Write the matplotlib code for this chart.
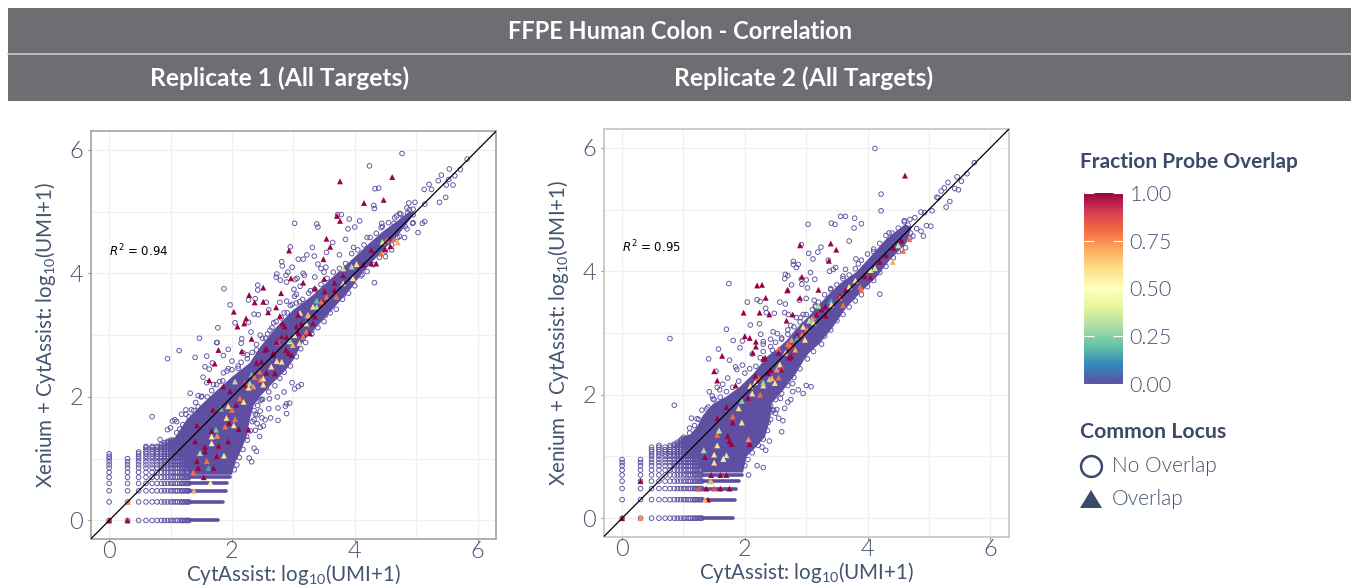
import matplotlib
matplotlib.use("Agg")
import matplotlib.pyplot as plt
from matplotlib.patches import Rectangle, Polygon
from matplotlib.cm import ScalarMappable
from matplotlib.colors import Normalize

W, H = 1351, 588
INK = "#44546f"
HEAD = "#3a4a68"
PURPLE = "#5e4fa2"

plt.rcParams["font.family"] = ["Lato", "DejaVu Sans"]
plt.rcParams["font.weight"] = 300
plt.rcParams["mathtext.default"] = "regular"

titles = ["Replicate 1 (All Targets)", "Replicate 2 (All Targets)"]
ticks = [0, 2, 4, 6]
cbar_ticks = [0, 0.25, 0.5, 0.75, 1]

# log10(n+1) for the small UMI counts, where the points fall on a grid
umi_levels = [0, .30, .48, .60, .70, .78, .85, .90, .95, 1.0, 1.04, 1.08, 1.11, 1.15, 1.18, 1.20, 1.23, 1.26, 1.28, 1.30]

# highest grid row reached in each grid column
left_col_top = [1.08, 1.0, 1.11, 1.20, 1.20, 1.20, 1.23, 1.26, 1.28, 1.30, 1.30, 1.30, 1.30, 1.30, 1.30, 1.30, 1.30, 1.30, 1.30, 1.30]
right_col_top = [.95, .95, 1.15, 1.18, 1.15, 1.18, 1.20, 1.23, 1.26, 1.28, 1.30, 1.30, 1.30, 1.30, 1.30, 1.30, 1.30, 1.30, 1.30, 1.30]

# the bottom rows run solid up to these x values
row_y = [0, .30, .48, .60, .70]
left_row_end = [1.78, 1.85, 1.90, 1.92, 1.97]
right_row_end = [1.80, 1.84, 1.86, 1.90, 1.95]

# outline of the solid mass of points
left_band_x = [1.05, 1.26, 1.53, 1.77, 2.02, 2.29, 2.46, 2.73, 3.0, 3.32, 3.65, 3.97, 4.24, 4.46, 4.68, 4.89, 4.98, 4.73, 4.41, 4.14, 3.92, 3.65, 3.43, 3.16, 3.0, 2.89, 2.67, 2.46, 2.35, 2.29, 2.24, 2.13, 2.05, 2.0, 1.3, 1.2]
left_band_y = [1.31, 1.63, 1.90, 2.12, 2.34, 2.55, 2.81, 3.14, 3.41, 3.65, 3.95, 4.24, 4.49, 4.68, 4.84, 5.0, 4.98, 4.65, 4.32, 4.03, 3.73, 3.43, 3.19, 2.9, 2.6, 2.45, 2.23, 2.01, 1.85, 1.63, 1.36, 1.09, .93, .74, .74, 1.09]
right_band_x = [1.03, 1.22, 1.32, 1.49, 1.70, 1.92, 2.14, 2.35, 2.54, 2.68, 2.84, 3.06, 3.33, 3.55, 3.82, 4.04, 4.31, 4.61, 4.72, 4.63, 4.36, 4.15, 3.87, 3.66, 3.44, 3.22, 3.05, 2.98, 2.82, 2.63, 2.44, 2.41, 2.33, 2.19, 2.03, 1.97, 1.3, 1.2]
right_band_y = [1.27, 1.48, 1.67, 1.86, 1.97, 2.13, 2.34, 2.61, 2.75, 2.88, 3.07, 3.29, 3.59, 3.8, 3.99, 4.23, 4.53, 4.76, 4.72, 4.45, 4.18, 3.91, 3.64, 3.42, 3.1, 2.83, 2.68, 2.59, 2.32, 2.08, 1.86, 1.59, 1.32, 1.16, 1.0, .74, .74, 1.09]

# open circles that roughen the edge of the mass
left_edge_x = [1.1, 1.2, 1.15, 1.3, 1.38, 1.45, 1.25, 1.5, 1.6, 1.67, 1.75, 1.85, 1.92, 2.0, 2.1, 2.15, 2.25, 2.33, 2.4, 2.5, 2.58, 2.65, 2.72, 2.8, 2.9, 2.95, 3.05, 3.15, 3.25, 3.35, 3.45, 3.55, 3.65, 3.75, 3.85, 3.95, 4.05, 4.15, 4.25, 4.35, 4.45, 4.55, 4.65, 4.75, 4.85,
               4.95, 4.85, 4.7, 4.6, 4.5, 4.4, 4.3, 4.2, 4.1, 4.0, 3.9, 3.8, 3.7, 3.6, 3.5, 3.4, 3.3, 3.2, 3.12, 3.05, 2.95, 2.85, 2.78, 2.7, 2.6, 2.5, 2.42, 2.38, 2.33, 2.3, 2.25, 2.18, 2.12, 2.08, 2.04]
left_edge_y = [1.42, 1.55, 1.48, 1.68, 1.78, 1.84, 1.72, 2.0, 2.0, 2.1, 2.2, 2.26, 2.42, 2.44, 2.5, 2.56, 2.68, 2.72, 2.85, 2.95, 3.02, 3.12, 3.22, 3.28, 3.36, 3.48, 3.52, 3.58, 3.68, 3.74, 3.82, 3.92, 4.02, 4.08, 4.16, 4.32, 4.38, 4.46, 4.58, 4.65, 4.76, 4.82, 4.9, 4.96, 5.06,
               4.82, 4.72, 4.58, 4.46, 4.36, 4.26, 4.14, 4.03, 3.96, 3.8, 3.68, 3.58, 3.42, 3.36, 3.22, 3.12, 3.02, 2.88, 2.78, 2.65, 2.5, 2.4, 2.3, 2.18, 2.08, 1.96, 1.86, 1.72, 1.6, 1.45, 1.3, 1.15, 1.02, .9, .82]
right_edge_x = [1.1, 1.18, 1.25, 1.3, 1.4, 1.5, 1.6, 1.7, 1.8, 1.9, 2.0, 2.08, 2.18, 2.25, 2.3, 2.42, 2.5, 2.6, 2.7, 2.8, 2.9, 3.0, 3.1, 3.2, 3.3, 3.4, 3.5, 3.6, 3.7, 3.8, 3.9, 4.0, 4.1, 4.2, 4.3, 4.4, 4.5, 4.6,
                4.7, 4.62, 4.5, 4.42, 4.3, 4.2, 4.1, 4.0, 3.9, 3.8, 3.7, 3.6, 3.5, 3.4, 3.3, 3.25, 3.12, 3.02, 2.9, 2.8, 2.7, 2.6, 2.5, 2.45, 2.42, 2.37, 2.3, 2.22, 2.12, 2.05, 2.0]
right_edge_y = [1.38, 1.5, 1.6, 1.75, 1.8, 1.92, 1.96, 2.05, 2.12, 2.22, 2.35, 2.42, 2.46, 2.6, 2.7, 2.78, 2.85, 2.92, 2.98, 3.1, 3.18, 3.3, 3.38, 3.5, 3.62, 3.7, 3.78, 3.88, 3.94, 4.04, 4.18, 4.28, 4.32, 4.45, 4.58, 4.62, 4.7, 4.82,
                4.62, 4.38, 4.32, 4.22, 4.08, 3.98, 3.85, 3.75, 3.62, 3.52, 3.42, 3.3, 3.2, 3.05, 2.95, 2.82, 2.7, 2.58, 2.42, 2.28, 2.15, 2.02, 1.92, 1.75, 1.6, 1.42, 1.28, 1.18, 1.06, .95, .85]

# separate open circles (no probe overlap)
left_open_x = [4.77, 4.24, 4.33, 4.39, 4.31, 4.32, 3.72, 3.78, 3.91, 4.08, 4.0, 3.89, 3.02, 3.38, 3.40, 3.85, 3.64, 3.31, 2.95, 3.22, 3.08, 3.16, 3.34, 3.54, 2.81, 2.82, 2.98, 3.40, 3.45, 3.53, 2.73, 2.72, 2.91, 2.88, 2.79, 2.89, 3.06, 3.03, 3.16, 3.18, 3.35, 3.11, 3.01, 3.05, 3.02, 1.87, 2.42, 2.42, 1.97, 2.27, 2.38, 2.56, 2.78, 2.89, 2.98, 2.36, 2.43, 2.6, 2.05, 2.27, 1.77, 1.47, 1.76, 2.16, 2.15, 2.62, 2.31, 2.46, 4.32, 5.03,
               5.83, 5.54, 5.72, 5.41, 5.36, 5.53, 5.63, 5.21, 5.49, 5.6, 5.13, 5.25, 5.48, 5.38, 5.14, 4.88, 4.98, 4.89, 4.95, 4.86, 4.73, 4.68, 4.79, 4.95, 5.14, 5.1, 4.94, 4.82, 4.64, 4.44, 4.73, 4.81, 4.58, 4.43,
               3.13, 3.08, 3.02, 2.98, 2.85, 2.94, 2.89, 2.87, 2.75, 2.74, 2.61, 2.48, 2.6, 2.89, 2.75, 2.63, 2.54, 2.46, 2.41, 2.49, 2.36, 2.41, 2.46, 2.51, 2.38, 2.45, 2.36, 2.4, 2.28, 2.32, 2.24,
               .7, .95, 1.14, 1.4, 1.59, 1.75, 1.32, 1.41, 1.56, 1.63, 1.68, 1.53, 1.59, 1.51, 1.86, 1.94, 2.0, 1.86, 1.94, 2.18, 1.07, 1.03, 1.25, 1.34, .83, .95, 1.0, 1.1, 1.18, 1.45, 1.7, 1.8, 2.1, 2.25, 2.4, 2.55, 2.68, 2.85, 3.1, 3.28, 3.5, 3.75, 3.98, 4.2, 4.5, 4.6, 4.12, 3.82, 3.52, 3.3, 2.78, 2.56, 2.46, 2.36]
left_open_y = [5.94, 5.74, 5.37, 5.38, 5.10, 5.05, 4.95, 4.95, 4.88, 4.85, 4.75, 4.72, 4.81, 4.80, 4.75, 4.55, 4.50, 4.42, 4.43, 4.30, 4.23, 4.23, 4.28, 4.34, 4.19, 4.12, 4.10, 4.15, 4.08, 4.10, 3.99, 3.94, 4.02, 3.97, 3.89, 3.86, 3.92, 3.90, 4.0, 3.97, 3.94, 3.79, 3.74, 3.66, 3.63, 3.75, 3.81, 3.73, 3.49, 3.57, 3.59, 3.53, 3.53, 3.55, 3.50, 3.34, 3.33, 3.41, 3.2, 3.21, 3.12, 2.95, 2.88, 2.94, 2.87, 3.08, 3.05, 3.0, 3.85, 4.66,
               5.85, 5.69, 5.68, 5.59, 5.50, 5.52, 5.58, 5.44, 5.43, 5.43, 5.36, 5.36, 5.23, 5.15, 5.12, 5.14, 5.15, 5.03, 5.04, 4.98, 4.97, 4.93, 4.89, 4.95, 4.84, 4.81, 4.81, 4.76, 4.81, 4.81, 4.6, 4.58, 4.63, 4.74,
               2.2, 2.17, 2.13, 2.23, 2.08, 1.9, 1.89, 1.85, 1.82, 2.0, 1.97, 1.96, 1.81, 1.73, 1.62, 1.66, 1.63, 1.77, 1.71, 1.66, 1.63, 1.57, 1.51, 1.53, 1.46, 1.36, 1.17, 1.12, 1.01, .95, 1.36,
               1.68, 2.62, 2.75, 2.64, 2.66, 2.88, 2.06, 1.91, 2.49, 2.45, 2.55, 2.32, 2.23, 2.01, 2.67, 2.77, 2.58, 2.39, 2.46, 2.71, 1.63, 1.61, 1.79, 1.79, 1.31, 1.47, 1.5, 1.6, 1.72, 2.02, 2.2, 2.25, 2.46, 2.62, 2.76, 2.95, 3.2, 3.36, 3.54, 3.72, 4.02, 4.3, 4.42, 4.58, 4.27, 4.38, 3.98, 3.66, 3.32, 3.08, 2.62, 2.15, 1.94, 1.78]
right_open_x = [4.12, 4.22, 4.22, 3.56, 3.64, 3.79, 3.90, 3.78, 3.03, 3.41, 3.47, 3.70, 2.92, 3.24, 3.19, 3.04, 3.11, 3.36, 2.79, 2.79, 2.87, 2.84, 3.48, 3.44, 3.38, 3.64, 3.81, 3.07, 2.66, 2.7, 2.65, 2.92, 3.0, 3.14, 1.74, 2.76, 2.93, 3.02, 2.57, 2.66, 2.89, 3.0, 3.13, 3.15, 2.04, 2.2, 2.25, 2.34, 2.35, 2.48, 2.65, 2.71, 2.84, 2.91, 2.09, 2.24, 1.7, 2.26, 2.46, 2.53, 2.7, .78, 1.81, 1.96, 1.57, 1.92, 2.3, 4.2,
                4.91, 4.96, 5.03, 5.05, 5.28, 5.34, 5.13, 5.15, 5.2, 5.25, 5.31, 5.42, 5.48, 5.46, 5.53, 5.62, 5.74, 4.87, 4.77, 4.69, 4.66, 4.8, 4.87, 4.69, 4.74, 4.93,
                3.08, 3.0, 2.95, 2.87, 2.78, 2.75, 2.7, 2.65, 2.58, 2.52, 2.47, 2.43, 2.38, 2.36, 2.3, 2.27, 2.42, 2.5, 2.55, 2.6, 2.62, 2.34, 2.28, 2.4, 2.06, 2.2, 2.3,
                .85, 1.41, 1.53, 1.64, 1.75, 1.87, 1.72, 1.55, 1.59, 1.47, 1.42, 1.85, 1.96, 2.12, 2.3, 2.42, 1.13, 1.22, 1.38, 1.48, 1.0, .97, 1.1, 2.45, 2.6, 2.75, 2.95, 3.15, 3.4, 3.6, 3.85, 4.1, 4.35, 4.6, 3.78, 3.5, 3.25, 2.78]
right_open_y = [5.99, 5.25, 4.98, 4.89, 4.89, 4.86, 4.77, 4.70, 4.76, 4.78, 4.76, 4.49, 4.43, 4.39, 4.31, 4.29, 4.2, 4.18, 4.16, 4.11, 4.11, 4.06, 4.06, 4.03, 4.0, 4.03, 4.2, 3.98, 3.95, 3.93, 3.88, 3.87, 3.86, 3.87, 3.8, 3.78, 3.79, 3.73, 3.5, 3.47, 3.53, 3.56, 3.53, 3.42, 3.5, 3.54, 3.51, 3.4, 3.33, 3.32, 3.33, 3.3, 3.25, 3.25, 3.13, 3.15, 3.06, 2.98, 3.02, 2.99, 3.05, 2.91, 2.88, 2.87, 2.74, 2.76, 2.82, 3.63,
                4.57, 4.74, 4.73, 4.98, 5.04, 5.13, 5.2, 5.19, 5.3, 5.35, 5.44, 5.34, 5.32, 5.53, 5.46, 5.58, 5.76, 4.96, 4.87, 4.84, 4.75, 4.69, 4.65, 4.54, 4.57, 4.95,
                2.13, 2.15, 2.02, 2.08, 2.05, 1.92, 1.88, 1.78, 1.94, 1.76, 1.75, 1.72, 1.55, 1.62, 1.45, 1.4, 1.82, 1.7, 1.62, 1.4, 1.58, 1.1, 1.15, 1.25, .7, .85, .82,
                1.83, 2.58, 2.38, 2.17, 2.56, 2.41, 2.27, 2.12, 2.08, 1.98, 2.05, 2.45, 2.48, 2.66, 2.86, 2.9, 1.62, 1.61, 1.77, 1.93, 1.31, 1.28, 1.46, 2.72, 2.9, 3.12, 3.3, 3.44, 3.72, 3.92, 4.12, 4.36, 4.62, 4.8, 3.62, 3.3, 3.0, 2.18]

# triangles (common locus) with their fraction of probe overlap
left_tri_x = [3.76, 4.61, 4.15, 4.47, 3.71, 3.76, 3.54, 3.6, 2.93, 3.49, 2.51, 2.28, 2.51, 2.37, 2.8, 2.96, 3.16, 3.5, 3.35, 2.72, 2.59, 2.78, 2.03, 2.23, 2.2, 2.09, 2.82, 2.32, 1.78, 1.72, 2.16, 1.63,
              1.37, 1.45, 1.54, 1.65, 1.38, .3, 0, .3, 1.48, 1.43, 1.59, 1.56, 1.4, 1.56, 1.67, 1.78, 1.87, 1.75, 1.62, 1.7, 1.67, 1.76, 1.94, 1.74, 1.67, 1.89, 2.03, 1.95, 1.91, 1.94, 2.05, 1.69, 1.82, 1.43, 2.11, 2.27, 2.0, 2.07, 2.13, 2.19, 2.27, 2.32, 2.05, 2.21, 1.86, 1.97, 2.46, 2.51, 2.56, 2.7, 2.4, 2.67, 2.75, 2.92, 2.94, 2.73,
              2.81, 3.11, 3.24, 3.05, 3.16, 3.35, 3.38, 3.67, 3.81, 3.95, 3.81, 4.03, 4.14, 4.27, 4.35, 4.27, 4.43, 4.45, 4.52, 4.64, 4.7, 4.58, 4.49, 3.7, 3.81, 3.97, 3.67, 3.54, 3.32, 3.48, 3.21, 2.89, 2.73, 2.56,
              3.08, 3.13, 3.24, 3.38, 3.46, 3.51, 3.32, 3.21, 3.08, 2.94, 2.99, 3.1, 2.88, 2.97, 2.81, 2.67, 2.54, 2.48, 2.45, 2.64, 2.37, 2.51, 2.29, 2.21, 2.7, 2.35, 2.86, 3.02, 3.27, 2.81]
left_tri_y = [5.49, 5.56, 5.14, 5.19, 4.93, 4.85, 4.56, 4.43, 4.37, 4.23, 3.77, 3.65, 3.54, 3.53, 3.68, 3.92, 3.85, 3.91, 3.76, 3.45, 3.37, 3.31, 3.38, 3.27, 3.19, 3.14, 3.19, 2.94, 2.76, 2.54, 2.74, 2.27,
              .78, .85, .70, .61, .48, .30, 0, 0, 1.09, .96, .96, 1.12, 1.28, 1.19, 1.25, 1.21, 1.05, 1.04, .85, .85, 1.36, 1.37, 1.28, 1.47, 1.45, 1.52, 1.54, 1.58, 1.66, 1.85, 1.64, 1.79, 1.81, 1.54, 1.48, 1.47, 1.79, 1.87, 1.98, 1.92, 2.15, 2.36, 2.25, 2.23, 2.17, 2.09, 2.28, 2.2, 2.39, 2.39, 2.55, 2.71, 2.88, 2.71, 2.9, 2.58,
              2.98, 3.36, 3.32, 3.14, 2.97, 3.3, 3.56, 3.85, 3.97, 4.11, 4.08, 4.15, 4.14, 4.16, 4.16, 4.38, 4.32, 4.51, 4.54, 4.55, 4.5, 4.44, 4.39, 3.62, 3.84, 3.92, 3.73, 3.62, 3.46, 3.54, 3.19, 2.97, 2.89, 2.78,
              3.33, 3.19, 3.33, 3.46, 3.54, 3.71, 3.19, 3.06, 3.03, 2.92, 2.84, 2.87, 2.76, 2.68, 2.57, 2.68, 2.76, 2.57, 2.41, 2.49, 2.32, 2.3, 2.22, 2.2, 2.38, 2.17, 3.14, 3.0, 3.03, 2.98]
left_tri_f = [1, 1, 1, 1, 1, 1, 1, 1, 1, 1, 1, 1, 1, 1, 1, 1, 1, 1, 1, 1, 1, 1, 1, 1, 1, 1, 1, 1, 1, 1, 1, 1,
              .8, 1, 1, .55, .7, .75, 1, 1, .3, 1, .8, 1, 1, 1, .55, 1, .6, 1, .15, 1, .55, .75, 1, .22, 1, .8, .6, 1, .6, .6, .8, 1, .2, 1, 1, 1, .8, 1, .8, .6, .6, .22, .3, .8, 1, 1, .8, .6, 1, 1, 1, 1, .8, 1, .6, .6,
              .8, .6, .6, 1, .8, 1, .2, 1, 1, .3, .35, .6, 1, 1, 1, 1, .8, .35, .8, .8, .7, 1, 1, .8, .6, .6, 1, .8, .6, 1, .6, 1, 1, 1,
              1, 1, .7, .3, .8, 1, 1, .8, 1, .25, .7, .6, 1, 1, .6, 1, 1, 1, .8, .6, .8, .6, .3, 1, 1, .75, 1, .6, 1, 1]
right_tri_x = [4.61, 3.4, 3.49, 2.9, 3.37, 2.2, 2.28, 2.34, 2.93, 2.69, 2.7, 3.2, 2.9, 1.98, 2.24, 2.4, 2.68, 2.78, 2.0, 2.08, 2.18, 1.5, 2.13, 2.18, 1.55, 1.63, 1.85,
               0, .3, .3, 1.37, 1.45, 1.6, 1.7, 1.25, 1.4, 1.43, 1.5, 1.35, 1.45, 1.5, 1.6, 1.75, 1.33, 1.35, 1.5, 1.55, 1.65, 1.7, 1.78, 1.55, 1.58, 1.75, 1.72, 1.8, 1.95, 2.08, 2.06, 1.55, 1.7, 1.8, 1.9, 1.95, 2.05, 2.12, 2.17, 2.25, 2.3, 2.4, 2.42, 2.55, 2.6, 2.72, 2.8, 2.55,
               2.7, 2.85, 2.95, 3.05, 3.12, 3.25, 3.32, 3.4, 3.55, 3.6, 3.65, 3.7, 3.8, 3.88, 3.95, 4.05, 4.12, 4.2, 4.3, 4.42, 4.5, 4.58, 4.55, 4.68, 4.41, 4.05, 3.9,
               3.55, 3.41, 3.31, 3.17, 3.12, 3.01, 2.93, 2.98, 2.85, 2.76, 2.76, 2.66, 2.55, 2.82, 2.57, 2.6, 2.38, 2.44, 2.22, 2.17, 2.3, 2.09, 2.49, 2.33, 2.3, 3.2, 3.09, 2.74, 2.52]
right_tri_y = [5.55, 4.45, 4.35, 4.42, 4.17, 3.77, 3.78, 3.57, 3.91, 3.69, 3.7, 3.7, 3.57, 3.33, 3.33, 3.3, 3.2, 3.3, 2.95, 2.92, 2.86, 2.38, 2.68, 2.78, 2.23, 2.63, 2.15,
               0, 0, .60, .48, .70, .70, .70, .48, .30, .60, .48, .30, .60, .90, .48, .48, 1.1, .99, 1.03, 1.18, .96, 1.02, 1.2, 1.35, 1.42, 1.25, 1.33, 1.55, 1.55, 1.2, 1.28, 1.62, 1.8, 1.65, 1.78, 1.9, 1.95, 2.02, 2.2, 2.0, 2.15, 2.25, 2.4, 2.28, 2.42, 2.6, 2.72, 2.74,
               2.82, 2.97, 3.1, 3.2, 3.25, 3.38, 3.28, 3.52, 3.6, 3.45, 3.7, 3.75, 3.85, 3.75, 3.92, 4.02, 4.05, 4.15, 4.26, 4.38, 4.42, 4.33, 4.5, 4.52, 4.15, 3.9, 3.7,
               3.57, 3.46, 3.43, 3.3, 3.17, 3.06, 2.98, 2.89, 2.92, 2.89, 2.62, 2.68, 2.68, 2.73, 2.49, 2.41, 2.35, 2.27, 2.27, 2.31, 2.2, 2.14, 2.19, 2.6, 2.58, 3.44, 3.22, 2.79, 2.41]
right_tri_f = [1, 1, 1, 1, 1, 1, 1, 1, 1, 1, 1, 1, 1, 1, 1, 1, 1, 1, 1, 1, 1, 1, 1, 1, 1, 1, 1,
               1, .75, 1, 1, 1, 1, 1, .85, 1, .2, .85, .7, .7, .6, 1, 1, .3, 1, .6, .6, .55, .35, 1, .8, .35, 1, 1, 1, .6, 1, .75, 1, 1, .8, .6, .25, 1, .6, .6, .8, .6, .3, 1, .8, .6, 1, 1, .8,
               .8, 1, .6, .6, .8, 1, 1, .15, 1, .8, 1, .6, .6, .8, 1, .6, .35, 1, 1, 1, .35, .8, 1, .8, .7, 1, .8,
               .8, .6, 1, 1, .6, .8, .8, .6, .15, .75, 1, .6, 1, .7, .6, 1, 1, .7, .8, 1, .25, .6, .6, 1, 1, .3, .25, .8, .75]

panels = [
    dict(box=(90.7, 131.3, 496, 539), r2="0.94", r2_y=4.36, spine="#a2a2a2",
         band=(left_band_x, left_band_y), col_top=left_col_top, row_end=left_row_end, edge=(left_edge_x, left_edge_y),
         open=(left_open_x, left_open_y), tri=(left_tri_x, left_tri_y, left_tri_f)),
    dict(box=(603.7, 129.3, 1008.7, 536.7), r2="0.95", r2_y=4.39, spine="#c4c4c4",
         band=(right_band_x, right_band_y), col_top=right_col_top, row_end=right_row_end, edge=(right_edge_x, right_edge_y),
         open=(right_open_x, right_open_y), tri=(right_tri_x, right_tri_y, right_tri_f)),
]

fig = plt.figure(figsize=(W / 100, H / 100), dpi=100, facecolor="white")

# overlay in pixel coordinates for the header strip and the legend
over = fig.add_axes([0, 0, 1, 1], zorder=5)
over.set_xlim(0, W)
over.set_ylim(H, 0)
over.axis("off")
over.add_patch(Rectangle((8, 8), W - 8, 92.5, fc="#6d6e71", ec="none"))
over.plot([8, W], [53.5, 53.5], color="#c9c9ca", lw=1.2)
over.text(680, 31.5, "FFPE Human Colon - Correlation", color="white", fontsize=17, fontweight="bold", ha="center", va="center")
over.text(280, 78.5, titles[0], color="white", fontsize=17.7, fontweight="bold", ha="center", va="center")
over.text(804, 78.5, titles[1], color="white", fontsize=17.7, fontweight="bold", ha="center", va="center")

over.text(1080, 162, "Fraction Probe Overlap", color=HEAD, fontsize=15, fontweight="bold", va="center")
over.text(1080, 432, "Common Locus", color=HEAD, fontsize=15.3, fontweight="bold", va="center")
over.plot([1091], [466], "o", ms=15, mfc="white", mec=HEAD, mew=1.8)
over.text(1112, 466, "No Overlap", color=INK, fontsize=15, va="center")
over.add_patch(Polygon([[1080, 508], [1102, 508], [1091, 490]], fc=HEAD, ec="none"))
over.text(1112, 499, "Overlap", color=INK, fontsize=15, va="center")

norm = Normalize(0, 1)

for p in panels:
    x0, y0, x1, y1 = p["box"]
    ax = fig.add_axes([x0 / W, 1 - y1 / H, (x1 - x0) / W, (y1 - y0) / H])
    ax.set_xlim(-0.3, 6.3)
    ax.set_ylim(-0.3, 6.3)
    ax.set_xticks(ticks)
    ax.set_yticks(ticks)
    ax.set_xticks([1, 3, 5], minor=True)
    ax.set_yticks([1, 3, 5], minor=True)
    ax.grid(True, which="both", color="#f0f0f0", lw=1)
    ax.set_axisbelow(True)
    ax.tick_params(which="minor", length=0)
    ax.tick_params(which="major", length=2.5, width=0.8, color="#888888", labelsize=17, labelcolor=INK, pad=3)
    ax.tick_params(axis="x", pad=-1)
    for s in ax.spines.values():
        s.set_color(p["spine"])
        s.set_linewidth(1.2)
    ax.set_xlabel("CytAssist: log$_{10}$(UMI+1)", fontsize=14.8, color=INK, labelpad=0)
    ax.set_ylabel("Xenium + CytAssist: log$_{10}$(UMI+1)", fontsize=14.8, color=INK, labelpad=8)

    ax.fill(p["band"][0], p["band"][1], color=PURPLE, lw=0, zorder=2)

    # grid of small counts
    grid_x, grid_y = [], []
    for cx, top in zip(umi_levels, p["col_top"]):
        for cy in umi_levels:
            if cy <= top:
                grid_x.append(cx)
                grid_y.append(cy)
    for ry, end in zip(row_y, p["row_end"]):
        ax.plot([1.3, end], [ry, ry], color=PURPLE, lw=2.6, solid_capstyle="round", zorder=2)
    ax.scatter(grid_x, grid_y, s=11, facecolors="none", edgecolors=PURPLE, linewidths=0.65, zorder=3)
    ax.scatter(p["edge"][0], p["edge"][1], s=11, facecolors="none", edgecolors=PURPLE, linewidths=0.65, zorder=3)
    ax.scatter(p["open"][0], p["open"][1], s=11, facecolors="none", edgecolors=PURPLE, linewidths=0.65, zorder=3)
    ax.scatter(p["tri"][0], p["tri"][1], c=p["tri"][2], cmap="Spectral_r", norm=norm, marker="^", s=18, linewidths=0, zorder=4)
    ax.plot([-0.3, 6.3], [-0.3, 6.3], color="black", lw=0.9, zorder=5)
    ax.text(0, p["r2_y"], r"$\mathit{R}^{2}$ = " + p["r2"], family="DejaVu Sans", fontweight="normal", fontsize=8.5, color="black", va="center")

cax = fig.add_axes([1084 / W, 1 - 384.3 / H, 38.7 / W, 191.6 / H])
cb = fig.colorbar(ScalarMappable(norm=norm, cmap="Spectral_r"), cax=cax, ticks=cbar_ticks)
cb.outline.set_visible(False)
cb.ax.set_yticklabels(["0.00", "0.25", "0.50", "0.75", "1.00"])
cb.ax.tick_params(direction="in", color="white", length=7, width=0.8, left=True, right=True, labelsize=15.5, labelcolor=INK, pad=5)

fig.savefig("out.png", dpi=100)
